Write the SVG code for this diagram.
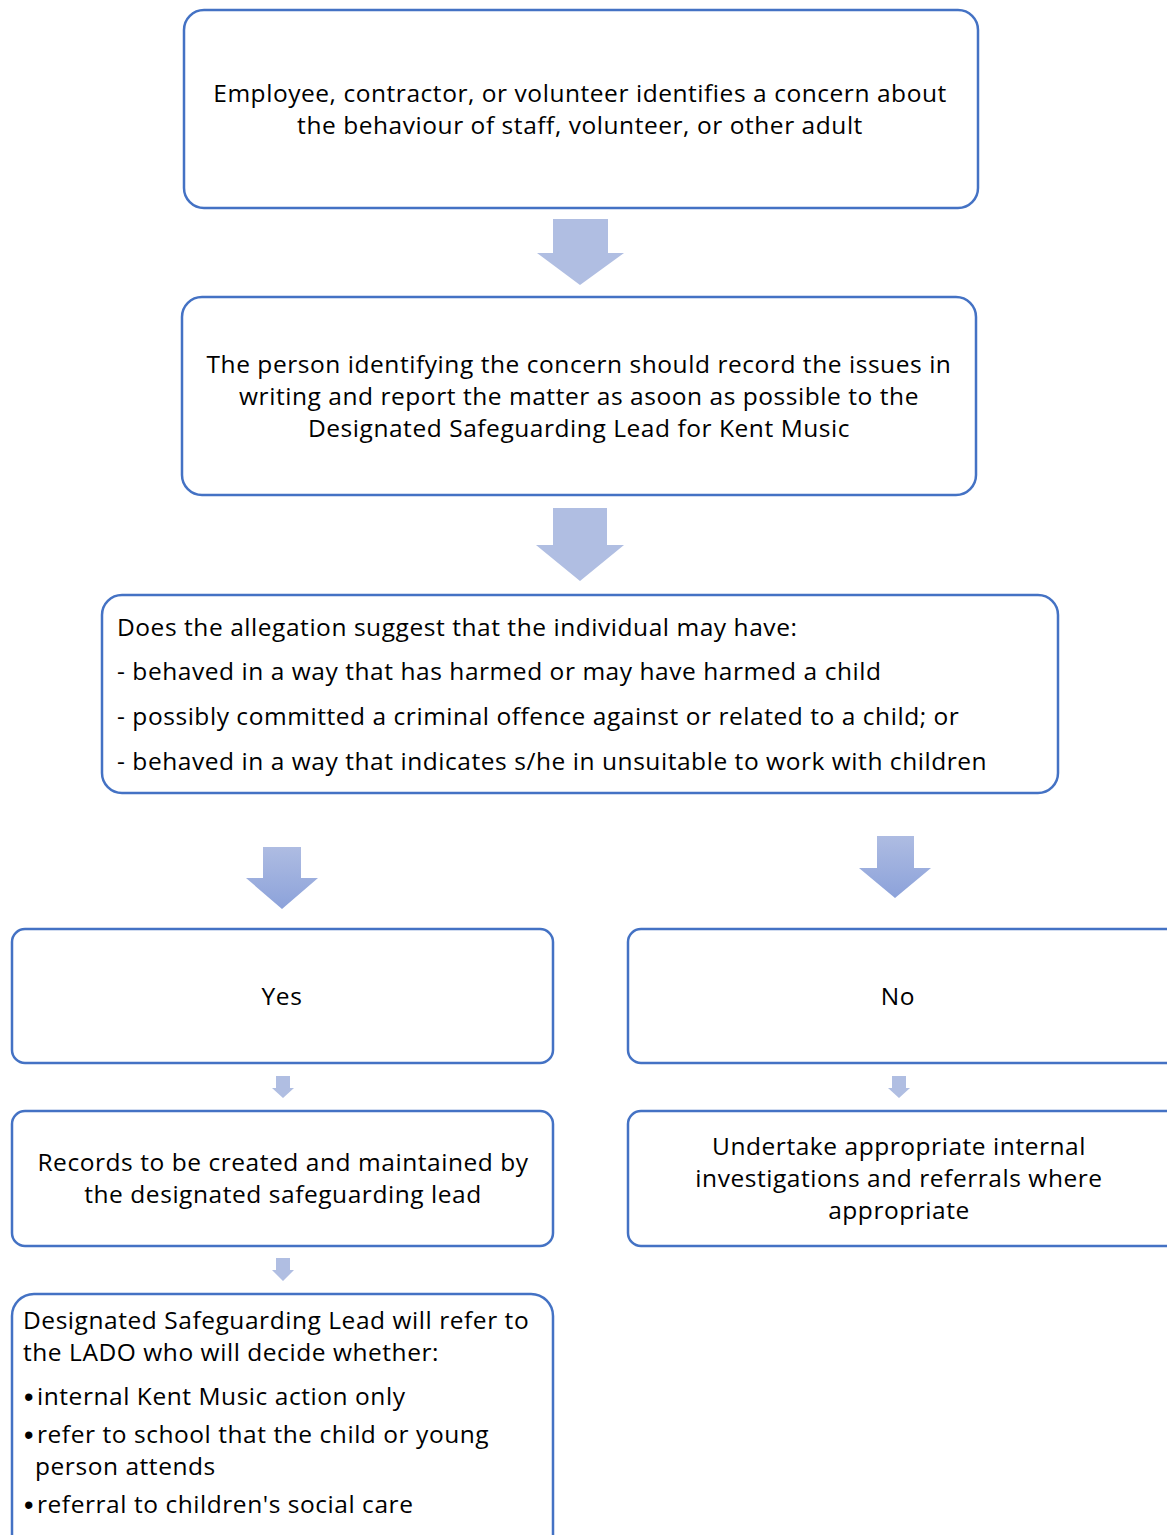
<svg xmlns="http://www.w3.org/2000/svg" width="1167" height="1535" viewBox="0 0 1167 1535">
<defs>
<style>
.box{fill:#fff;stroke:#4472C4;stroke-width:2.5}
.t{font-family:"Open Sans","Liberation Sans",sans-serif;font-size:24.5px;letter-spacing:0.55px;fill:#000}
.b{font-family:"Liberation Sans",Arial,sans-serif;font-size:27px;fill:#000}
.c{text-anchor:middle}
.arr{fill:#B0BEE2}
</style>
<linearGradient id="g" x1="0" y1="0" x2="0" y2="1">
<stop offset="0" stop-color="#AEBCE2"/>
<stop offset="1" stop-color="#8CA2DA"/>
</linearGradient>
</defs>
<rect width="1167" height="1535" fill="#fff"/>
<g id="connectors">
<polygon class="arr" points="553,219 608,219 608,253 624,253 580,285 537,253 553,253"/>
<polygon class="arr" points="553,508 607,508 607,545 624,545 580,581 536,545 553,545"/>
<polygon fill="url(#g)" points="263,847 301,847 301,878 318,878 282,909 246,878 263,878"/>
<polygon fill="url(#g)" points="877,836 914,836 914,868 931,868 895,898 859,868 877,868"/>
<polygon class="arr" points="276,1076 290,1076 290,1088 294,1088 283,1098 272,1088 276,1088"/>
<polygon class="arr" points="892,1076 906,1076 906,1088 910,1088 899,1098 888,1088 892,1088"/>
<polygon class="arr" points="276,1258 290,1258 290,1270 294,1270 283,1281 272,1270 276,1270"/>
</g>
<g id="n1">
<rect class="box" x="184" y="10" width="794" height="198" rx="20"/>
<text class="t c" x="580" y="102">Employee, contractor, or volunteer identifies a concern about</text>
<text class="t c" x="580" y="134">the behaviour of staff, volunteer, or other adult</text>
</g>
<g id="n2">
<rect class="box" x="182" y="297" width="794" height="198" rx="20"/>
<text class="t c" x="579" y="373">The person identifying the concern should record the issues in</text>
<text class="t c" x="579" y="405">writing and report the matter as asoon as possible to the</text>
<text class="t c" x="579" y="437">Designated Safeguarding Lead for Kent Music</text>
</g>
<g id="n3">
<rect class="box" x="102" y="595" width="956" height="198" rx="20"/>
<text class="t" x="117" y="636">Does the allegation suggest that the individual may have:</text>
<text class="t" x="117" y="680">- behaved in a way that has harmed or may have harmed a child</text>
<text class="t" x="117" y="725">- possibly committed a criminal offence against or related to a child; or</text>
<text class="t" x="117" y="770">- behaved in a way that indicates s/he in unsuitable to work with children</text>
</g>
<g id="n4">
<rect class="box" x="12" y="929" width="541" height="134" rx="13"/>
<text class="t c" x="282" y="1005">Yes</text>
</g>
<g id="n5">
<rect class="box" x="628" y="929" width="560" height="134" rx="13"/>
<text class="t c" x="898" y="1005">No</text>
</g>
<g id="n6">
<rect class="box" x="12" y="1111" width="541" height="135" rx="13"/>
<text class="t c" x="283" y="1171">Records to be created and maintained by</text>
<text class="t c" x="283" y="1203">the designated safeguarding lead</text>
</g>
<g id="n7">
<rect class="box" x="628" y="1111" width="560" height="135" rx="13"/>
<text class="t c" x="899" y="1155">Undertake appropriate internal</text>
<text class="t c" x="899" y="1187">investigations and referrals where</text>
<text class="t c" x="899" y="1219">appropriate</text>
</g>
<g id="n8">
<rect class="box" x="12" y="1294" width="541" height="280" rx="22"/>
<text class="t" x="23" y="1329">Designated Safeguarding Lead will refer to</text>
<text class="t" x="23" y="1361">the LADO who will decide whether:</text>
<text class="b" x="24" y="1406">•</text>
<text class="t" x="37" y="1405">internal Kent Music action only</text>
<text class="b" x="24" y="1444">•</text>
<text class="t" x="37" y="1443">refer to school that the child or young</text>
<text class="t" x="35" y="1475">person attends</text>
<text class="b" x="24" y="1514">•</text>
<text class="t" x="37" y="1513">referral to children's social care</text>
</g>
</svg>
